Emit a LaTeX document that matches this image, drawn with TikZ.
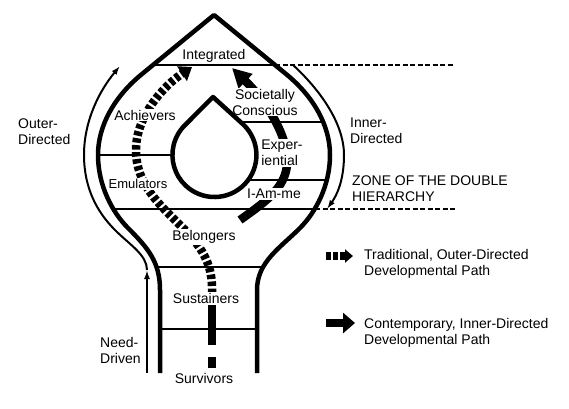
\documentclass[tikz,border=0pt]{standalone}
\usepackage{fontspec}
\setmainfont{Liberation Sans}
\usetikzlibrary{arrows.meta}
\begin{document}
\begin{tikzpicture}[x=1bp,y=-1bp,
  font=\fontsize{14bp}{16bp}\selectfont,
  outline/.style={line width=4.5bp, line join=round},
  divider/.style={line width=2bp},
  guide/.style={line width=1.5bp, dash pattern=on 5bp off 2.5bp},
  flow/.style={line width=2bp},
  tradpath/.style={line width=8.5bp, dash pattern=on 4.5bp off 2.5bp},
  contpath/.style={line width=8.5bp},
  lbl/.style={fill=white, inner sep=1bp},
  plain/.style={inner sep=0pt},
  txt/.style={inner sep=0pt, align=left, anchor=west}]
\useasboundingbox (0,0) rectangle (569,408);
\fill[white] (0,0) rectangle (569,408);

% dividing lines
\draw[divider] (153,65) -- (275,65);
\draw[guide] (275,65) -- (455,65);
\draw[divider] (240,122) -- (323,122);
\draw[divider] (98,155) -- (173,155);
\draw[divider] (247,180) -- (327,180);
\draw[divider] (113,209) -- (315,209);
\draw[guide] (315,209) -- (455,209);
\draw[divider] (158,267) -- (263,267);
\draw[divider] (160,329) -- (257,329);

% outer flow arrows
\coordinate (nd0) at (147,373);
\coordinate (nd1) at (147,270);
\coordinate (od1) at (120,66);
\coordinate (id0) at (293,65);
\coordinate (id1) at (327,209);
\draw[flow, -{Latex[length=9bp,width=6bp]}] (nd0) -- (nd1);
\draw[flow, -{Latex[length=9bp,width=6bp]}] (nd1) .. controls (147,255) and (130,245) .. (115,230)
   .. controls (97,212) and (84,188) .. (84,155) .. controls (84,120) and (100,90) .. (od1);
\draw[flow, -{Latex[length=9bp,width=6bp]}] (id0) .. controls (318,88) and (344,122) .. (344,155)
   .. controls (344,180) and (337,195) .. (id1);

% developmental paths
\coordinate (t0) at (212,300);
\coordinate (t1) at (192,67);
\coordinate (c0) at (240,220);
\coordinate (c1) at (232,68);
\draw[contpath] (212,357) -- (212,368);
\draw[contpath] (212,305) -- (212,345);
\draw[tradpath, -{Triangle[length=12bp,width=17bp]}] (t0) -- (212,288) .. controls (212,262) and (200,246) .. (185,230)
   .. controls (160,205) and (136,185) .. (136,150) .. controls (136,115) and (165,85) .. (t1);
\draw[contpath, -{Triangle[length=19bp,width=19bp]}] (c0) .. controls (268,200) and (290,185) .. (287,155)
   .. controls (284,130) and (265,100) .. (c1);

% labels
\node[plain] (integ) at (214,56) {Integrated};
\node[lbl, align=center] (soc) at (265,102) {Societally\\Conscious};
\node[lbl] (ach) at (145,115) {Achievers};
\node[lbl, align=left] (exp) at (282,153) {Exper-\\iential};
\node[lbl, font=\fontsize{13bp}{15bp}\selectfont] (emu) at (138,184) {Emulators};
\node[lbl] (iam) at (274,194) {I-Am-me};
\node[lbl] (bel) at (204,237) {Belongers};
\node[lbl] (sus) at (206,298) {Sustainers};
\node[plain] (sur) at (204,378) {Survivors};
\node[txt] (outer) at (18,132) {Outer-\\Directed};
\node[txt] (inner) at (350,131) {Inner-\\Directed};
\node[txt] (zone) at (352,189) {ZONE OF THE DOUBLE\\HIERARCHY};
\node[txt] (need) at (100,350) {Need-\\Driven};

% outline and teardrop
\draw[outline] (160,373) -- (160,290) .. controls (160,262) and (148,248) .. (128,228)
   .. controls (112,212) and (98,185) .. (98,155) .. controls (98,125) and (115,96) .. (142,74)
   -- (214,15) -- (286,74) .. controls (313,96) and (330,125) .. (330,155)
   .. controls (330,185) and (316,212) .. (300,228) .. controls (280,248) and (257,262) .. (257,290)
   -- (257,373);
\draw[outline] (213,97) -- (243.4,124.6) arc[start angle=-46.4, end angle=226.4, radius=42] -- cycle;

% legend
\coordinate (l1a) at (326,256);
\coordinate (l1b) at (353,256);
\coordinate (l2a) at (326,323);
\coordinate (l2b) at (355,323);
\draw[tradpath, -{Triangle[length=8bp,width=13bp]}] (l1a) -- (l1b);
\draw[contpath, -{Triangle[length=12bp,width=20bp]}] (l2a) -- (l2b);
\node[txt] (leg1) at (364,264) {Traditional, Outer-Directed\\Developmental Path};
\node[txt] (leg2) at (364,333) {Contemporary, Inner-Directed\\Developmental Path};
\end{tikzpicture}
\end{document}
